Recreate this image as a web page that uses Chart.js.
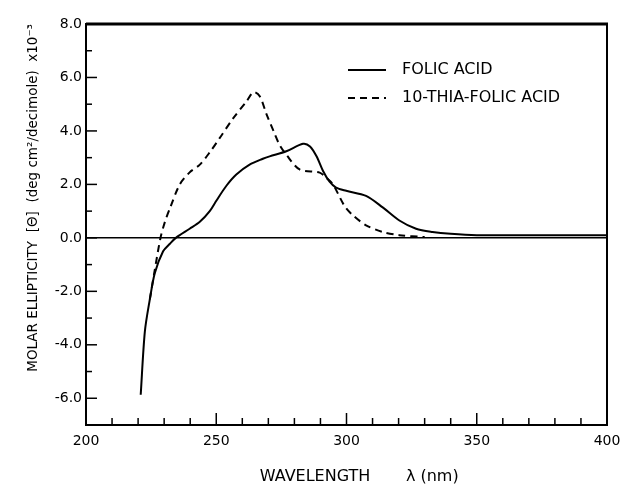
<!DOCTYPE html>
<html>
<head>
<meta charset="utf-8">
<script src="https://cdn.jsdelivr.net/npm/chart.js@4"></script>
<style>
html,body{margin:0;padding:0;background:#fff;}
canvas{display:block;}
</style>
</head>
<body>
<canvas id="c" width="641" height="487"></canvas>
<script>
// ---- data ----
const folicLabel = 'FOLIC ACID';
const folicX = [221, 222.6, 224.5, 226.4, 229.6, 232.2, 234.5, 239.8, 243.7, 247.5, 250.1, 253.9, 257.7, 262.8, 267.9, 270.5, 276.9, 283.3, 286, 288.5, 291, 293.5, 296, 299.9, 307.5, 313.9, 320.3, 326.7, 333, 340, 350, 370, 400];
const folicY = [-5.87, -3.5, -2.3, -1.32, -0.5, -0.22, 0, 0.34, 0.6, 1.0, 1.4, 1.95, 2.37, 2.74, 2.96, 3.05, 3.24, 3.52, 3.42, 3.05, 2.5, 2.1, 1.88, 1.76, 1.57, 1.14, 0.65, 0.34, 0.22, 0.15, 0.1, 0.1, 0.1];

const thiaLabel = '10-THIA-FOLIC ACID';
const thiaX = [224.5, 226.4, 228.6, 230.3, 232.2, 236, 239.8, 243.7, 247.5, 251.3, 256.4, 261.6, 264.3, 266.7, 269.2, 272.4, 274.3, 276.9, 282, 289.7, 292.2, 294.8, 299.2, 302.4, 307.5, 313.9, 320.3, 330];
const thiaY = [-2.3, -1.2, 0, 0.6, 1.1, 2.0, 2.45, 2.74, 3.2, 3.73, 4.46, 5.1, 5.45, 5.3, 4.65, 3.9, 3.48, 3.11, 2.56, 2.44, 2.25, 2.0, 1.2, 0.85, 0.47, 0.22, 0.1, 0.03];

const xMin = 200, xMax = 400, xStep = 10, xLabelEvery = 50;
const yMin = -7, yMax = 8, yStep = 1, yLabelEvery = 2;

const xTitle = '     WAVELENGTH       λ (nm)';
const yTitle = 'MOLAR ELLIPTICITY  [Θ]  (deg cm²/decimole)  x10⁻³';

const FONT = 'DejaVu Sans';

function pts(xs, ys){ return xs.map((x,i)=>({x:x, y:ys[i]})); }

const frameTicks = {
  id: 'frameTicks',
  afterDatasetsDraw(chart){
    const {ctx, chartArea:a, scales:{x, y}} = chart;
    ctx.save();
    ctx.strokeStyle = '#000';
    // top and right frame
    ctx.lineWidth = 3;
    ctx.beginPath(); ctx.moveTo(a.left, a.top); ctx.lineTo(a.right+1, a.top); ctx.stroke();
    ctx.lineWidth = 2;
    ctx.beginPath(); ctx.moveTo(a.right, a.top); ctx.lineTo(a.right, a.bottom); ctx.stroke();
    // inward ticks
    ctx.lineWidth = 1.5;
    x.ticks.forEach(t => {
      if (t.value <= xMin || t.value >= xMax) return;
      const px = x.getPixelForValue(t.value);
      const len = (t.value % xLabelEvery === 0) ? 12 : 7;
      ctx.beginPath(); ctx.moveTo(px, a.bottom); ctx.lineTo(px, a.bottom - len); ctx.stroke();
    });
    y.ticks.forEach(t => {
      if (t.value <= yMin || t.value >= yMax) return;
      const py = y.getPixelForValue(t.value);
      const len = (t.value % yLabelEvery === 0) ? 11 : 6;
      ctx.beginPath(); ctx.moveTo(a.left, py); ctx.lineTo(a.left + len, py); ctx.stroke();
    });
    // legend
    ctx.font = '16px "' + FONT + '"';
    ctx.fillStyle = '#000';
    ctx.textBaseline = 'middle';
    ctx.textAlign = 'left';
    const rows = [70, 98];
    chart.data.datasets.forEach((ds, i) => {
      const ry = rows[i];
      ctx.lineWidth = 2;
      ctx.setLineDash(ds.borderDash || []);
      ctx.beginPath(); ctx.moveTo(348, ry); ctx.lineTo(386, ry); ctx.stroke();
      ctx.setLineDash([]);
      ctx.fillText(ds.label, 402, ry);
    });
    ctx.restore();
  }
};

new Chart(document.getElementById('c'), {
  type: 'line',
  data: {
    datasets: [
      { label: folicLabel, data: pts(folicX, folicY), borderColor: '#000', borderWidth: 2, pointRadius: 0, tension: 0.3, fill: false },
      { label: thiaLabel, data: pts(thiaX, thiaY), borderColor: '#000', borderWidth: 2, borderDash: [7,5], pointRadius: 0, tension: 0.3, fill: false }
    ]
  },
  options: {
    responsive: false,
    animation: false,
    devicePixelRatio: 1,
    layout: { padding: { left: 0, right: 34, top: 24, bottom: 0 } },
    plugins: { legend: { display: false }, tooltip: { enabled: false } },
    scales: {
      x: {
        type: 'linear', min: xMin, max: xMax,
        afterFit(s){ s.height = 62; },
        border: { display: true, color: '#000', width: 2 },
        grid: { display: false, drawTicks: false },
        ticks: {
          stepSize: xStep, autoSkip: false, maxRotation: 0, padding: 8,
          color: '#000', font: { family: FONT, size: 14 },
          callback: v => (v % xLabelEvery === 0 ? String(v) : '')
        },
        title: { display: true, text: xTitle, color: '#000', font: { family: FONT, size: 16 }, padding: { top: 0, bottom: 1 } }
      },
      y: {
        type: 'linear', min: yMin, max: yMax,
        afterFit(s){ s.width = 86; },
        border: { display: true, color: '#000', width: 2 },
        grid: {
          drawTicks: false,
          color: c => (c.tick && c.tick.value === 0 ? '#000' : 'rgba(0,0,0,0)'),
          lineWidth: 1.5
        },
        ticks: {
          stepSize: yStep, autoSkip: false, padding: 4,
          color: '#000', font: { family: FONT, size: 14 },
          callback: v => (v % yLabelEvery === 0 ? v.toFixed(1) : '')
        },
        title: { display: true, text: yTitle, align: 'end', color: '#000', font: { family: FONT, size: 13.5 }, padding: { top: 25, bottom: 0 } }
      }
    }
  },
  plugins: [frameTicks]
});
</script>
</body>
</html>
